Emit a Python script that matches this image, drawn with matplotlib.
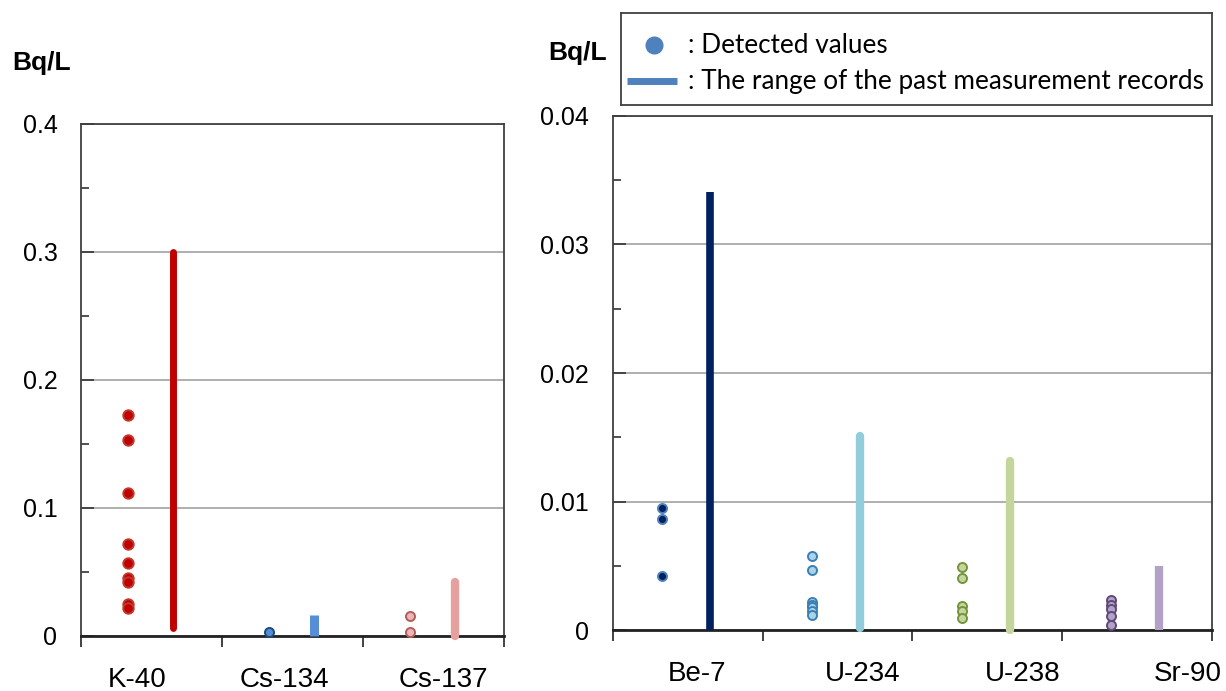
import numpy as np
import matplotlib
matplotlib.use("Agg")
import matplotlib.pyplot as plt

plt.rcParams['font.family'] = ['Liberation Sans', 'DejaVu Sans']

# left panel data (Bq/L)
left_nuclides = ["K-40", "Cs-134", "Cs-137"]
left_detected = [
    [0.173, 0.153, 0.112, 0.072, 0.057, 0.045, 0.042, 0.025, 0.022],
    [0.003],
    [0.0156, 0.003],
]
left_range_low = [0.006, 0.0, 0.0]
left_range_high = [0.30, 0.0165, 0.042]

# right panel data (Bq/L)
right_nuclides = ["Be-7", "U-234", "U-238", "Sr-90"]
right_detected = [
    [0.0095, 0.0087, 0.0042],
    [0.0058, 0.0047, 0.0022, 0.0020, 0.0018, 0.0015, 0.0012],
    [0.0049, 0.0041, 0.0019, 0.0015, 0.0010],
    [0.0024, 0.0020, 0.0017, 0.0011, 0.0004],
]
right_range_low = [0.0, 0.0002, 0.0, 0.0]
right_range_high = [0.0341, 0.0151, 0.0132, 0.0050]

# styles
left_bar_colors = ['#C00000', '#558ED5', '#E6A0A0']
left_pt_face = ['#C00000', '#558ED5', '#E6B9B8']
left_pt_edge = ['#C0392B', '#1F497D', '#B65A5A']
left_caps = ['round', 'butt', 'round']
left_ms = [7.5, 6.5, 6.5]
left_label_shift = [-0.10, -0.06, 0.07]

right_bar_colors = ['#002060', '#92CDDC', '#C3D69B', '#B3A2C7']
right_pt_face = ['#002060', '#A9D4E8', '#C3D69B', '#B3A2C7']
right_pt_edge = ['#4F81BD', '#3C7FB5', '#77933C', '#5F497A']
right_caps = ['butt', 'round', 'round', 'butt']
right_ms = [6.5, 6.5, 6.5, 6.5]
right_label_shift = [0.06, 0.17, 0.24, 0.34]

PT_OFF = -0.17
BAR_OFF = 0.15


def draw_panel(ax, names, detected, lo, hi, bar_colors, face, edge, caps, ms,
               shifts, ymax, ystep, fmt, bar_w):
    n = len(names)
    for i in range(n):
        ys = detected[i]
        ax.plot([i + PT_OFF] * len(ys), ys, 'o', ms=ms[i], mfc=face[i],
                mec=edge[i], mew=1.4, zorder=4, clip_on=False)
        ax.plot([i + BAR_OFF, i + BAR_OFF], [lo[i], hi[i]], color=bar_colors[i],
                lw=bar_w[i], solid_capstyle=caps[i], zorder=3, clip_on=False)
    ax.set_xlim(-0.5, n - 0.5)
    ax.set_ylim(0, ymax)
    ax.set_xticks(np.arange(-0.5, n))
    ax.set_xticklabels([])
    ax.set_xticks(np.arange(n) + np.array(shifts), names, minor=True)
    ax.tick_params(axis='x', which='major', direction='out', length=8,
                   width=1.3, color='#333333')
    ax.tick_params(axis='x', which='minor', length=0, pad=22, labelsize=20)
    major = np.arange(0, ymax + ystep / 2, ystep)
    ax.set_yticks(major, [fmt(v) for v in major])
    ax.set_yticks(np.arange(ystep / 2, ymax, ystep), minor=True)
    ax.tick_params(axis='y', which='major', direction='in', length=9,
                   width=1.2, pad=17, labelsize=18, color='#333333')
    ax.tick_params(axis='y', which='minor', direction='in', length=6,
                   width=1.2, color='#333333')
    ax.grid(axis='y', which='major', color='#9A9A9A', lw=1.1)
    ax.set_axisbelow(True)
    for s in ['top', 'right', 'left']:
        ax.spines[s].set_color('#404040')
        ax.spines[s].set_linewidth(1.3)
    ax.spines['bottom'].set_color('#222222')
    ax.spines['bottom'].set_linewidth(2.0)


fig = plt.figure(figsize=(12.26, 6.91), dpi=100)

ax1 = fig.add_axes([0.0661, 0.0796, 0.345, 0.741])
draw_panel(ax1, left_nuclides, left_detected, left_range_low, left_range_high,
           left_bar_colors, left_pt_face, left_pt_edge, left_caps, left_ms,
           left_label_shift, 0.4, 0.1,
           lambda v: '0' if v == 0 else f'{v:.1f}', [5.0, 6.5, 6.0])

ax2 = fig.add_axes([0.4998, 0.0876, 0.4886, 0.745])
draw_panel(ax2, right_nuclides, right_detected, right_range_low, right_range_high,
           right_bar_colors, right_pt_face, right_pt_edge, right_caps, right_ms,
           right_label_shift, 0.04, 0.01,
           lambda v: '0' if v == 0 else f'{v:.2f}', [5.5, 6.0, 6.0, 6.0])

fig.text(12 / 1226, 1 - 63 / 691, 'Bq/L', fontsize=19, fontweight='bold',
         ha='left', va='center')
fig.text(548 / 1226, 1 - 53 / 691, 'Bq/L', fontsize=19, fontweight='bold',
         ha='left', va='center')

# legend box
lg = fig.add_axes([0.5063, 0.848, 0.4825, 0.1327])
lg.set_xlim(0, 1)
lg.set_ylim(0, 1)
lg.set_xticks([])
lg.set_yticks([])
for s in lg.spines.values():
    s.set_color('#404040')
    s.set_linewidth(1.3)
lg.plot([0.056], [0.65], 'o', ms=12, color='#4F81BD')
lg.plot([0.0106, 0.0947], [0.262, 0.262], color='#4F81BD', lw=5,
        solid_capstyle='butt')
lg.text(0.114, 0.65, ': Detected values', fontsize=18.8, family='Lato',
        va='center', ha='left')
lg.text(0.114, 0.262, ': The range of the past measurement records',
        fontsize=18.8, family='Lato', va='center', ha='left')

fig.savefig('out.png', dpi=100)
